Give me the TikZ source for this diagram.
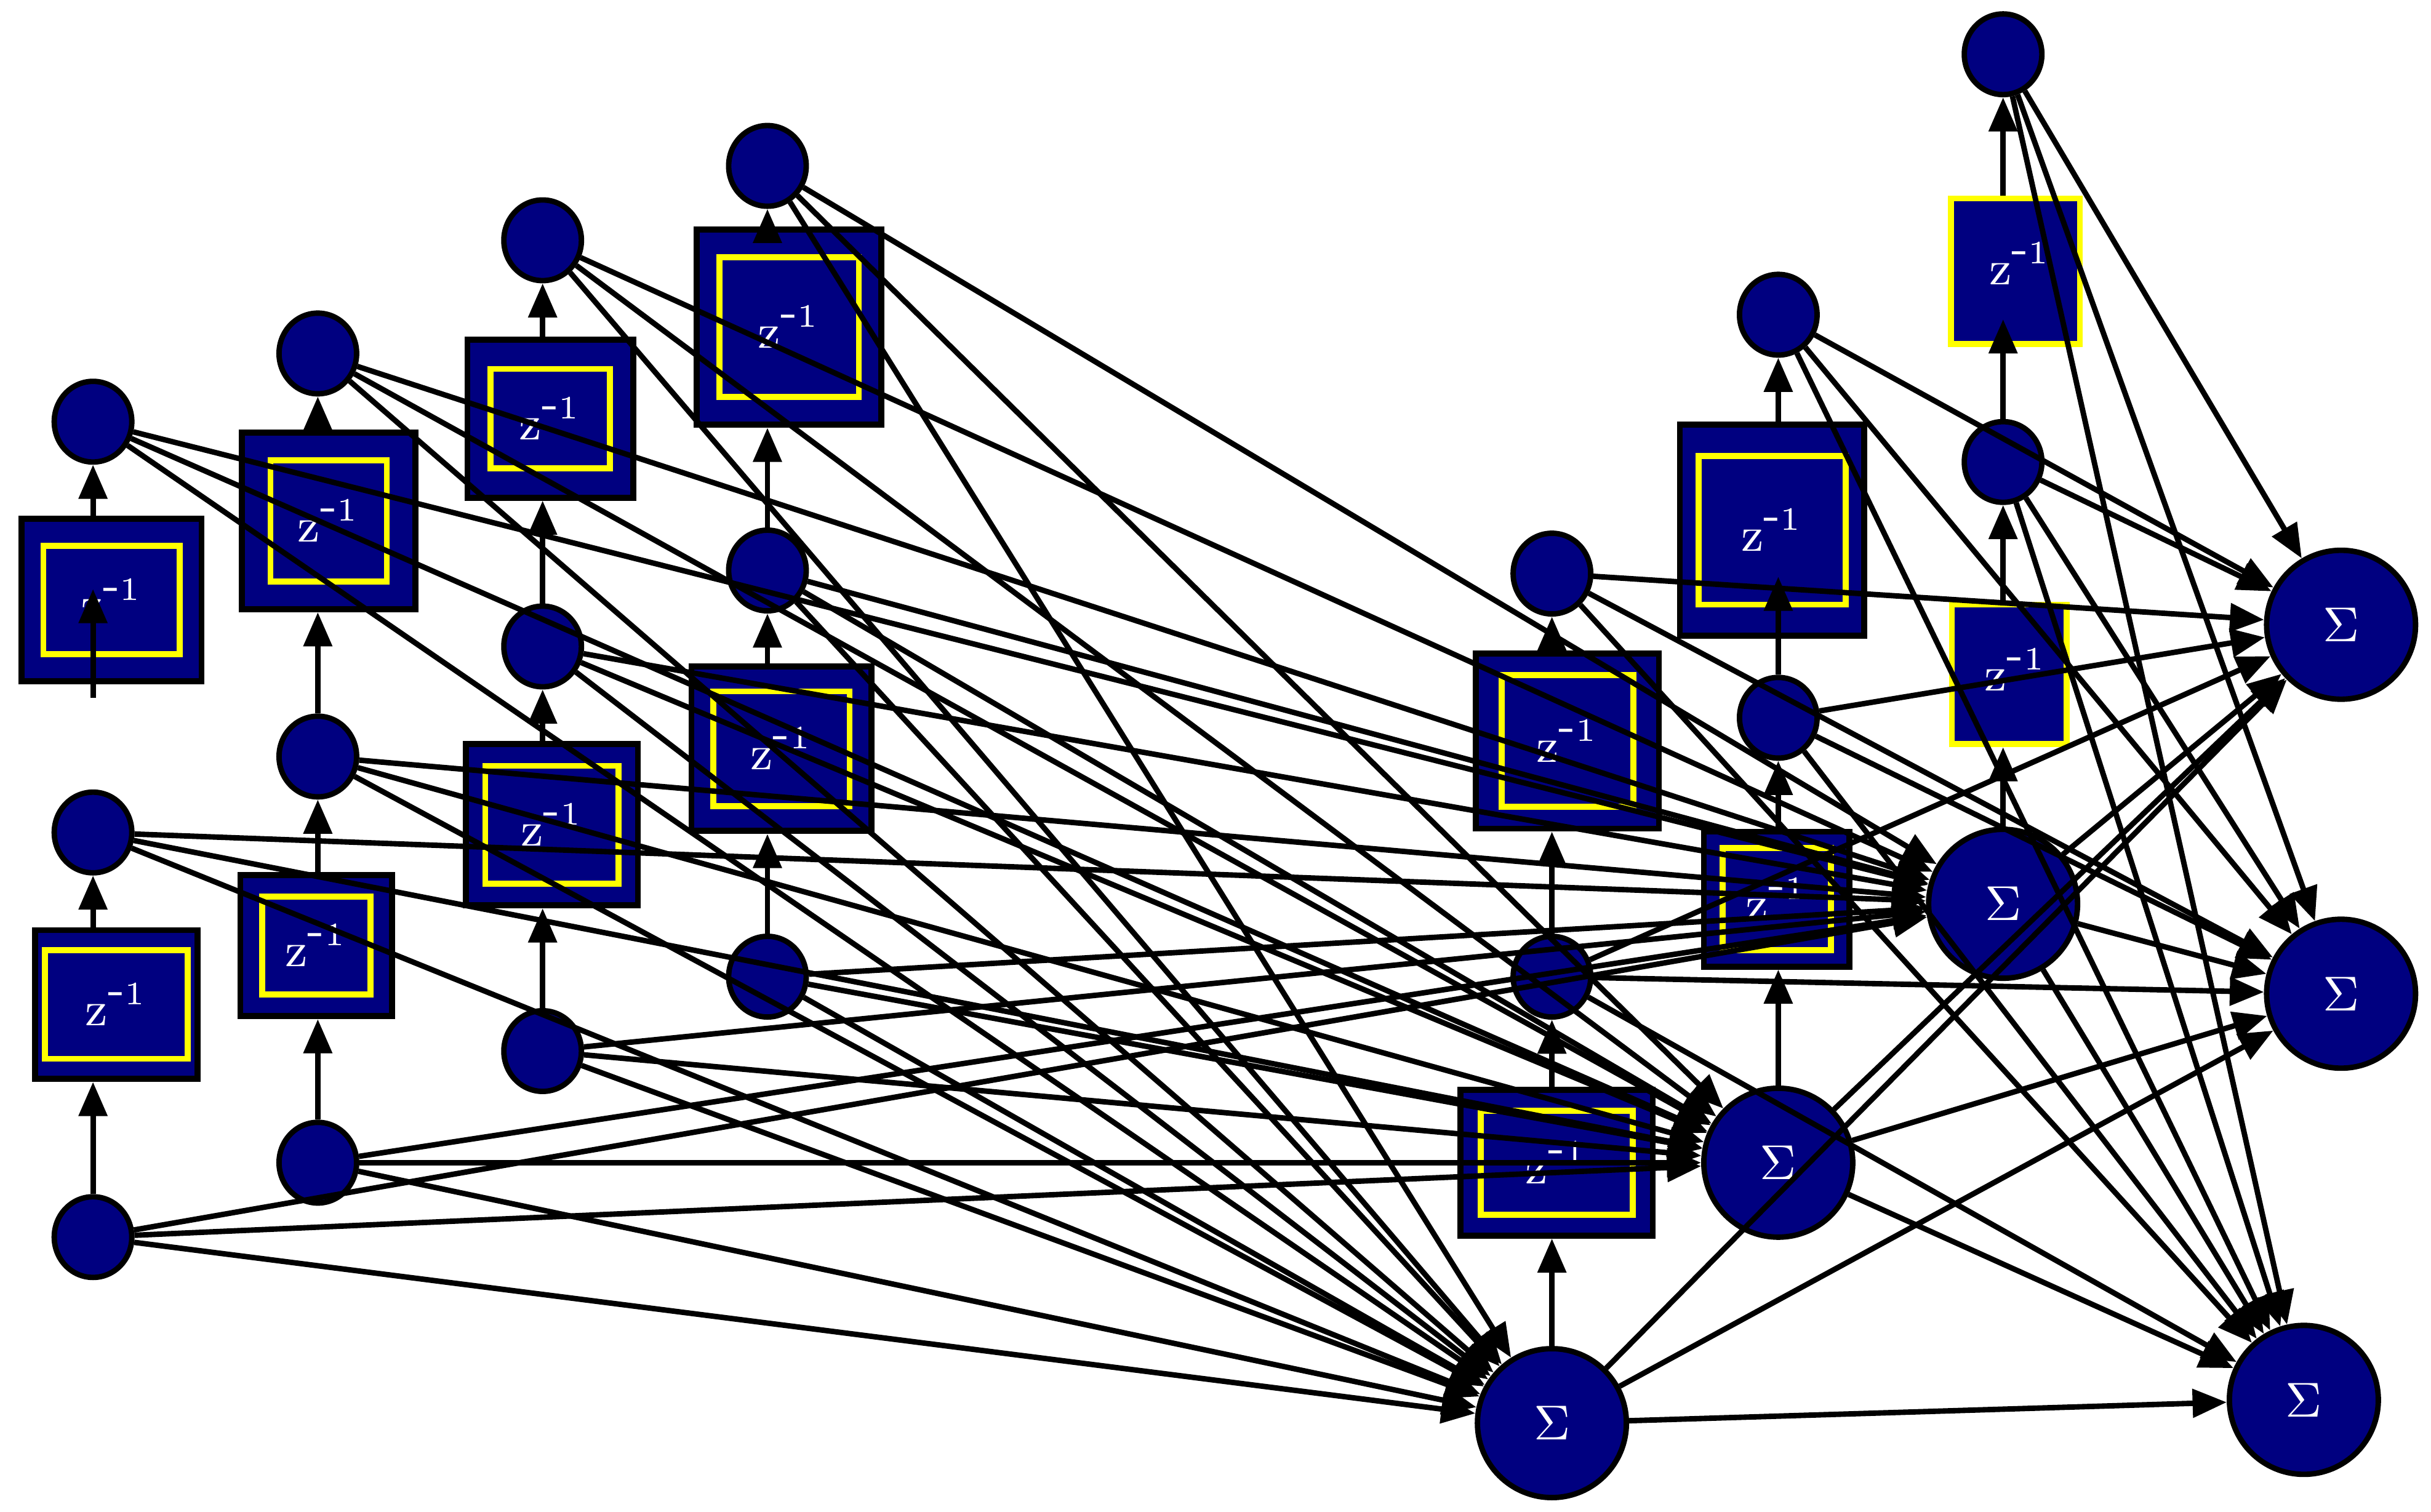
\documentclass[tikz,border=0pt]{standalone}
\usetikzlibrary{arrows.meta,shapes.geometric,calc}
\definecolor{nv}{RGB}{0,0,128}
\definecolor{yl}{RGB}{255,255,0}
\begin{document}
\begin{tikzpicture}[x=0.01cm,y=-0.01cm,
  cn/.style={ellipse,draw=black,fill=nv,line width=1pt,minimum width=0.5cm,minimum height=0.52cm,inner sep=0pt},
  sn/.style={ellipse,draw=black,fill=nv,line width=1pt,minimum width=0.96cm,minimum height=0.96cm,inner sep=0pt,text=white,font=\fontsize{9}{10}\selectfont},
  zb/.style={rectangle,draw=black,fill=nv,line width=1.1pt,inner sep=0pt},
  zy/.style={rectangle,draw=yl,fill=nv,line width=1.1pt,inner sep=0pt},
  tx/.style={text=white,font=\fontsize{9}{10}\selectfont},
  arr/.style={line width=1pt,-{Triangle[length=0.22cm,width=0.18cm]}},
  ln/.style={line width=1pt}]
\useasboundingbox (0,0) rectangle (1568,975);
\newcommand\zbox[7]{%
  \node[zb,minimum width={#4*0.01cm},minimum height={#5*0.01cm}] (#1) at (#2,#3) {};
  \node[zy,minimum width={#6*0.01cm},minimum height={#7*0.01cm}] at (#2,#3) {};
  \node[tx] at (#2,#3) {z$^{\mbox{-}1}$};}
% boxes
\zbox{z1a}{72}{387}{116}{105}{88}{70}
\zbox{z1b}{75}{648}{105}{96}{92}{70}
\zbox{z2a}{212}{336}{112}{114}{75}{78}
\zbox{z2b}{204}{610}{98}{91}{70}{63}
\zbox{z3a}{355}{270}{107}{102}{77}{64}
\zbox{z3b}{356}{532}{111}{104}{86}{76}
\zbox{z4a}{509}{211}{119}{126}{90}{90}
\zbox{z4b}{504}{483}{116}{106}{88}{74}
\zbox{z5a}{1011}{478}{118}{113}{85}{85}
\zbox{z5b}{1004}{750}{124}{94}{98}{67}
\zbox{z6a}{1143}{342}{119}{136}{95}{96}
\zbox{z6b}{1146}{580}{94}{87}{70}{66}
\node[zy,minimum width=0.83cm,minimum height=0.94cm] (z7a) at (1300,175) {};
\node[tx] at (1303,170) {z$^{\mbox{-}1}$};
\node[zy,minimum width=0.74cm,minimum height=0.9cm] (z7b) at (1296,435) {};
\node[tx] at (1300,432) {z$^{\mbox{-}1}$};
% circles
\node[cn] (c1a) at (60,272) {}; \node[cn] (c1b) at (60,537) {}; \node[cn] (c1c) at (60,798) {};
\node[cn] (c2a) at (205,228) {}; \node[cn] (c2b) at (205,488) {}; \node[cn] (c2c) at (205,750) {};
\node[cn] (c3a) at (350,155) {}; \node[cn] (c3b) at (350,417) {}; \node[cn] (c3c) at (350,678) {};
\node[cn] (c4a) at (495,107) {}; \node[cn] (c4b) at (495,368) {}; \node[cn] (c4c) at (495,630) {};
\node[cn] (c5a) at (1001,370) {}; \node[cn] (c5) at (1001,630) {};
\node[cn] (c6a) at (1147,203) {}; \node[cn] (c6) at (1147,463) {};
\node[cn] (c7a) at (1292,35) {}; \node[cn] (c7) at (1292,298) {};
% sums
\node[sn] (S1) at (1001,918) {$\Sigma$};
\node[sn] (S2) at (1147,750) {$\Sigma$};
\node[sn] (S3) at (1292,583) {$\Sigma$};
\node[sn] (S4) at (1510,403) {$\Sigma$};
\node[sn] (S5) at (1510,641) {$\Sigma$};
\node[sn] (S6) at (1486,903) {$\Sigma$};
% vertical chains
\coordinate (p1) at (60,450); \coordinate (q1) at (60,380);
\draw[arr] (p1) -- (q1);
\draw[arr] (z1a.north -| c1a) -- (c1a);
\draw[arr] (c1c) -- (c1c |- z1b.south);
\draw[arr] (z1b.north -| c1b) -- (c1b);
\foreach \c/\za/\zb in {2/z2a/z2b,3/z3a/z3b,4/z4a/z4b}{
  \draw[arr] (c\c c) -- (c\c c |- \zb.south);
  \draw[arr] (\zb.north -| c\c b) -- (c\c b);
  \draw[arr] (c\c b) -- (c\c b |- \za.south);
  \draw[arr] (\za.north -| c\c a) -- (c\c a);}
\draw[arr] (S1) -- (S1 |- z5b.south);
\draw[arr] (z5b.north -| c5) -- (c5);
\draw[arr] (c5) -- (c5 |- z5a.south);
\draw[arr] (z5a.north -| c5a) -- (c5a);
\draw[arr] (S2) -- (S2 |- z6b.south);
\draw[arr] (z6b.north -| c6) -- (c6);
\coordinate (q6) at (1147,372);
\draw[arr] (c6) -- (q6);
\draw[arr] (z6a.north -| c6a) -- (c6a);
\draw[arr] (S3) -- (S3 |- z7b.south);
\draw[arr] (z7b.north -| c7) -- (c7);
\coordinate (q7) at (1292,206);
\draw[arr] (c7) -- (q7);
\draw[arr] (z7a.north -| c7a) -- (c7a);
% connections to hidden sums
\foreach \n in {c1a,c1b,c1c,c2a,c2b,c2c,c3a,c3b,c3c,c4a,c4b,c4c}{
  \foreach \s in {S1,S2,S3}{ \draw[arr] (\n) -- (\s); }}
% connections to output sums
\foreach \n in {c5,c5a,c6,c6a,c7,c7a,S1,S2,S3}{
  \foreach \s in {S4,S5,S6}{ \draw[arr] (\n) -- (\s); }}
\end{tikzpicture}
\end{document}
